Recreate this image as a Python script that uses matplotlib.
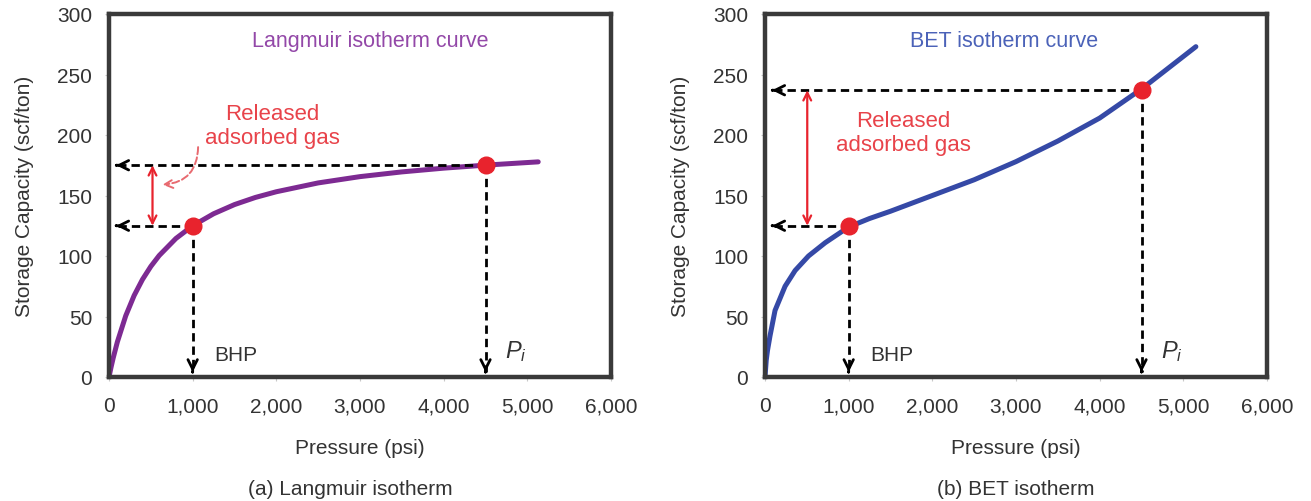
import numpy as np
import matplotlib
matplotlib.use('Agg')
import matplotlib.pyplot as plt
import matplotlib.ticker as tick

plt.rcParams['font.family'] = ['Liberation Sans', 'DejaVu Sans']
plt.rcParams['mathtext.fontset'] = 'custom'
plt.rcParams['mathtext.it'] = 'Liberation Sans:italic'
plt.rcParams['mathtext.rm'] = 'Liberation Sans'

# Langmuir isotherm curve (psi, scf/ton)
lang_p = [0, 25, 50, 100, 200, 300, 400, 500, 600, 800, 1000, 1250, 1500, 1750,
          2000, 2500, 3000, 3500, 4000, 4500, 5130]
lang_v = [0, 8.2, 15.7, 29.0, 50.6, 67.3, 80.6, 91.4, 100.4, 114.5, 125.0, 134.9,
          142.5, 148.4, 153.1, 160.4, 165.6, 169.5, 172.6, 175.1, 177.8]

# BET isotherm curve
bet_p = [0, 15, 30, 60, 120, 240, 360, 520, 720, 1000, 1250, 1500, 2000, 2500,
         3000, 3500, 4000, 4500, 5150]
bet_v = [0, 14, 22, 34, 55, 75, 88, 100, 111, 124, 131, 137, 150, 163,
         178, 195, 214, 238, 273]

# operating points: bottom hole pressure and initial pressure
bhp = 1000
p_init = 4500
lang_pts = [125, 175]
bet_pts = [125, 237]

xticks = [0, 1000, 2000, 3000, 4000, 5000, 6000]
yticks = [0, 50, 100, 150, 200, 250, 300]

FRAME = '#3a3a3a'
TXT = '#333333'
RED = '#e8232d'
RED_TXT = '#e8434a'


def dashed_arrow(ax, x0, y0, x1, y1):
    # dashed shaft plus a solid little head at (x1, y1)
    ax.plot([x0, x1], [y0, y1], color='black', lw=2.0, ls=(0, (3.0, 1.8)), zorder=3)
    dx = (x1 - x0) * 0.001
    dy = (y1 - y0) * 0.001
    ax.annotate('', xy=(x1, y1), xytext=(x1 - dx, y1 - dy),
                arrowprops=dict(arrowstyle='->', color='black', lw=2.0,
                                mutation_scale=17, shrinkA=0, shrinkB=0), zorder=4)


def draw_panel(ax, p, v, pts, color, title, title_color, caption, ann, red_x, cap_x):
    ax.set_xlim(0, 6000)
    ax.set_ylim(0, 300)
    ax.set_xticks(xticks)
    ax.set_yticks(yticks)
    ax.xaxis.set_major_formatter(tick.StrMethodFormatter('{x:,.0f}'))
    ax.tick_params(axis='both', labelsize=15, labelcolor=TXT, color='#c8c8c8',
                   length=3, width=0.8)
    ax.tick_params(axis='x', pad=11)
    ax.tick_params(axis='y', pad=9)
    for sp in ax.spines.values():
        sp.set_linewidth(3.2)
        sp.set_color(FRAME)
    ax.set_xlabel('Pressure (psi)', fontsize=15, color=TXT, labelpad=16)
    ax.set_ylabel('Storage Capacity (scf/ton)', fontsize=15, color=TXT, labelpad=17)

    ax.plot(p, v, color=color, lw=3.6, solid_capstyle='round', zorder=2)

    lo, hi = pts
    dashed_arrow(ax, p_init, hi, 85, hi)
    dashed_arrow(ax, bhp, lo, 85, lo)
    dashed_arrow(ax, bhp, lo, bhp, 4)
    dashed_arrow(ax, p_init, hi, p_init, 4)
    ax.plot([bhp, p_init], [lo, hi], 'o', color=RED, ms=12, zorder=5)

    ax.annotate('', xy=(red_x, hi), xytext=(red_x, lo),
                arrowprops=dict(arrowstyle='<->', color=RED, lw=1.6,
                                mutation_scale=14, shrinkA=0, shrinkB=0), zorder=4)
    ax.text(ann[0], ann[1], 'Released\nadsorbed gas', color=RED_TXT,
            fontsize=16, ha='center', va='center', linespacing=1.2)

    ax.text(bhp + 260, 19, 'BHP', fontsize=15, color=TXT, va='center')
    ax.text(p_init + 230, 22, '$P_i$', fontsize=17, color=TXT, va='center')
    ax.text(title[1], 278, title[0], fontsize=15.5, color=title_color,
            ha='center', va='center')
    ax.text(cap_x, -0.306, caption, transform=ax.transAxes, fontsize=15,
            color=TXT, ha='center', va='center')


fig = plt.figure(figsize=(13.11, 5.02), dpi=100)
ax1 = fig.add_axes([109 / 1311, 124 / 502, 502 / 1311, 363 / 502])
ax2 = fig.add_axes([765 / 1311, 124 / 502, 502 / 1311, 363 / 502])

draw_panel(ax1, lang_p, lang_v, lang_pts, '#7d2a92', ('Langmuir isotherm curve', 3120),
           '#9348a8', '(a) Langmuir isotherm', (1950, 208), 520, 0.48)
draw_panel(ax2, bet_p, bet_v, bet_pts, '#3549a6', ('BET isotherm curve', 2860),
           '#4b62b8', '(b) BET isotherm', (1650, 202), 505, 0.5)

# curved pointer from the label to the double arrow (left panel only)
ax1.annotate('', xy=(640, 159), xytext=(1065, 190),
             arrowprops=dict(arrowstyle='->', color='#e86a70', lw=1.4, ls='--',
                             connectionstyle='arc3,rad=-0.45', mutation_scale=15,
                             shrinkA=0, shrinkB=0))

plt.savefig('out.png', dpi=100)
